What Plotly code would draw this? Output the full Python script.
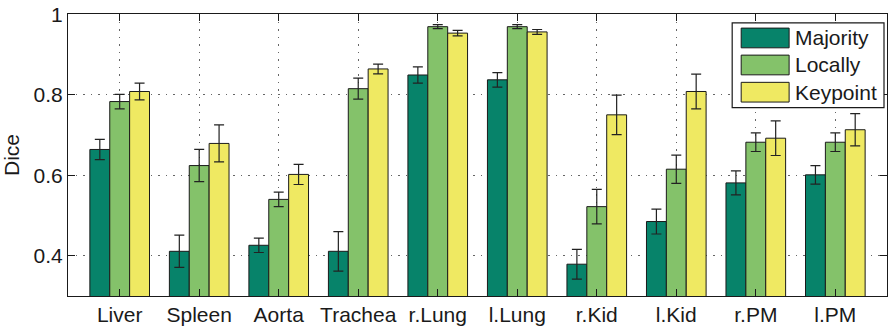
import plotly.graph_objects as go

categories = ["Liver", "Spleen", "Aorta", "Trachea", "r.Lung", "l.Lung", "r.Kid", "l.Kid", "r.PM", "l.PM"]
series_names = ["Majority", "Locally", "Keypoint"]
majority = [0.664, 0.411, 0.426, 0.411, 0.849, 0.837, 0.379, 0.485, 0.581, 0.601]
majority_err = [0.025, 0.040, 0.018, 0.049, 0.020, 0.018, 0.037, 0.031, 0.030, 0.023]
locally = [0.783, 0.624, 0.540, 0.815, 0.969, 0.969, 0.522, 0.615, 0.682, 0.682]
locally_err = [0.018, 0.040, 0.018, 0.026, 0.005, 0.005, 0.043, 0.035, 0.023, 0.023]
keypoint = [0.808, 0.679, 0.602, 0.864, 0.953, 0.956, 0.750, 0.808, 0.692, 0.713]
keypoint_err = [0.021, 0.046, 0.025, 0.012, 0.007, 0.006, 0.049, 0.043, 0.043, 0.040]
colors = ["#07836A", "#84C26A", "#EFE962"]
y_ticks = [0.4, 0.6, 0.8, 1.0]
y_ticktext = ["0.4", "0.6", "0.8", "1"]

values = [majority, locally, keypoint]
errors = [majority_err, locally_err, keypoint_err]

FONT = "Liberation Sans, Arial, Helvetica, sans-serif"
TXT = "#1a1a1a"

fig = go.Figure()
for name, vals, errs, col in zip(series_names, values, errors, colors):
    fig.add_trace(go.Bar(
        x=categories, y=vals, name=name,
        marker=dict(color=col, line=dict(color="#1a1a1a", width=1)),
        error_y=dict(type="data", array=errs, visible=True, color="#222222", thickness=1.2, width=5),
        showlegend=False,
    ))

# manual legend (MATLAB-like large swatches)
W, H, L, T = 820, 286, 68, 10
def px(x):
    return (x - L) / W
def py(y):
    return (T + H - y) / H

fig.add_shape(type="rect", xref="paper", yref="paper",
              x0=px(733), x1=px(885), y0=py(105), y1=py(19),
              fillcolor="white", line=dict(color="#1a1a1a", width=1.2), layer="above")
row_tops = [24.3, 51.7, 79.3]
for name, col, top in zip(series_names, colors, row_tops):
    fig.add_shape(type="rect", xref="paper", yref="paper",
                  x0=px(742), x1=px(790), y0=py(top + 20), y1=py(top),
                  fillcolor=col, line=dict(color="#1a1a1a", width=1), layer="above")
    fig.add_annotation(xref="paper", yref="paper", x=px(795), y=py(top + 10),
                       text=name, showarrow=False, xanchor="left", yanchor="middle",
                       borderpad=0,
                       font=dict(family=FONT, size=21, color=TXT))

fig.update_layout(
    width=891, height=333,
    margin=dict(l=68, r=3, t=10, b=37),
    plot_bgcolor="white", paper_bgcolor="white",
    barmode="group", bargap=0.25, bargroupgap=0,
    font=dict(family=FONT, size=21, color=TXT),
)
fig.update_xaxes(
    range=[-0.65, 9.65], showline=True, mirror="allticks", linecolor="#1a1a1a", linewidth=1.2,
    ticks="inside", ticklen=7, tickcolor="#1a1a1a",
    showgrid=True, gridcolor="#666666", griddash="1.5px,6px", gridwidth=1,
    tickfont=dict(size=21, family=FONT, color=TXT),
)
fig.update_yaxes(
    range=[0.3, 1.0005], tickvals=y_ticks, ticktext=y_ticktext,
    showline=True, mirror="allticks", linecolor="#1a1a1a", linewidth=1.2,
    ticks="inside", ticklen=7, tickcolor="#1a1a1a",
    showgrid=True, gridcolor="#666666", griddash="1.5px,6px", gridwidth=1,
    zeroline=False, ticklabeloverflow="allow",
    tickfont=dict(size=21, family=FONT, color=TXT),
    title=dict(text="Dice", font=dict(size=21, family=FONT, color=TXT), standoff=12),
)

fig.write_html("out.html", config={"displayModeBar": False},
               post_script="document.body.style.margin='0';document.body.style.overflow='hidden';")
